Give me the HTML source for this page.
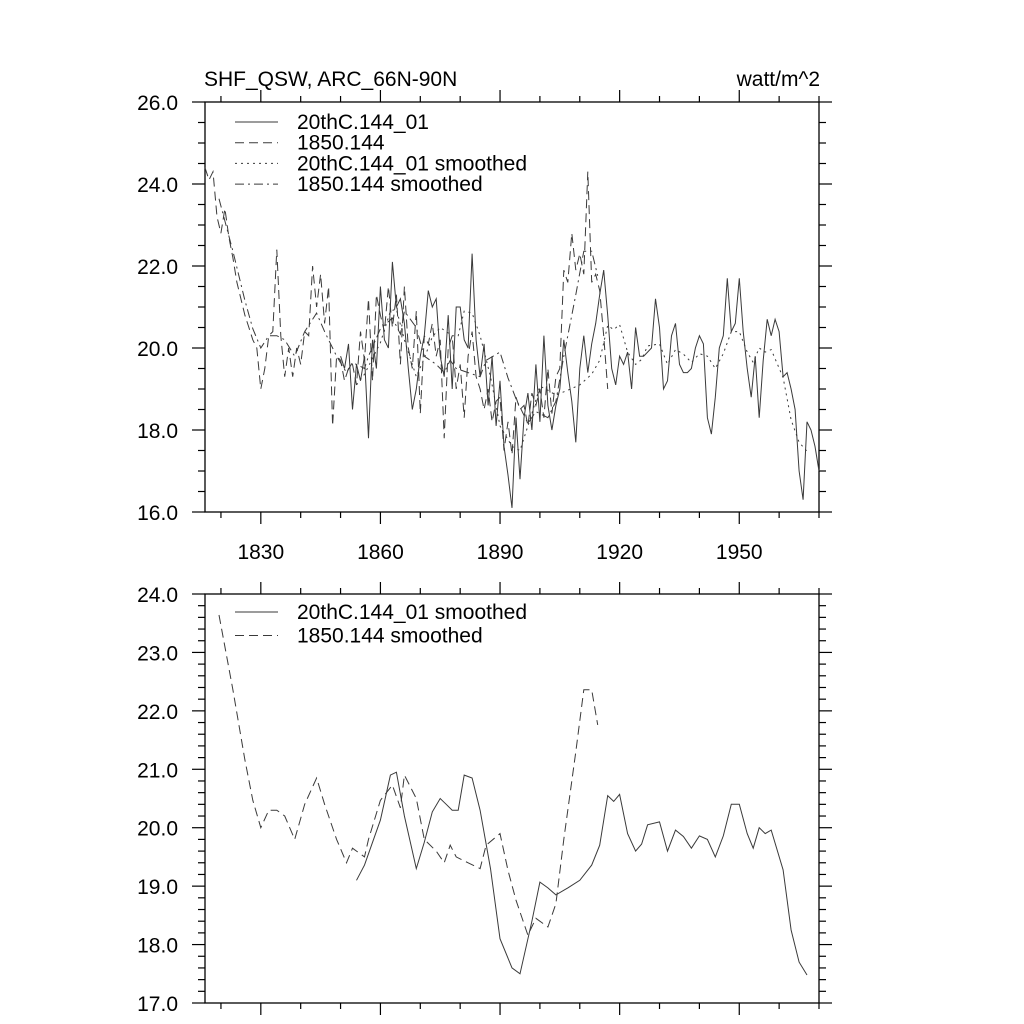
<!DOCTYPE html>
<html><head><meta charset="utf-8"><style>
body{margin:0;background:#fff}
svg{display:block;font-family:"Liberation Sans",sans-serif}
</style></head><body>
<svg id="chart" width="1024" height="1024" xmlns="http://www.w3.org/2000/svg">
<rect width="1024" height="1024" fill="#fff"/>
<g id="g"></g>
</svg>
<script>
const rawYears20Start = 1850;
const raw20 = [19.8,19.5,20.1,18.5,19.6,19.2,19.8,17.8,20.2,19.5,21.5,20.2,20.0,22.1,21.0,21.2,20.6,19.5,18.5,19.0,
19.8,20.3,21.4,21.0,21.2,19.8,19.3,20.8,19.0,21.0,21.0,20.2,20.0,22.3,20.2,19.3,20.1,18.6,19.8,18.1,
19.2,17.6,16.9,16.1,18.3,16.8,18.3,18.9,18.0,19.6,18.2,20.3,18.6,18.0,18.6,19.0,20.2,19.4,18.7,17.7,
19.5,20.3,19.4,20.1,20.6,21.3,21.9,20.8,19.5,19.1,19.8,19.6,19.9,19.0,20.5,19.8,19.8,19.9,20.0,21.2,
20.5,19.0,19.2,20.3,20.6,19.6,19.4,19.4,19.5,20.0,20.3,20.1,18.3,17.9,18.8,20.0,20.3,21.7,20.4,20.6,
21.7,20.4,19.5,18.8,19.8,18.3,19.7,20.7,20.3,20.7,20.4,19.3,19.4,19.0,18.5,17.0,16.3,18.2,18.0,17.6,17.0];
const rawYears1850Start = 1816;
const raw1850 = [24.4,24.1,24.3,23.2,22.8,23.4,22.7,22.2,21.6,21.2,20.8,20.5,20.2,20.0,19.0,19.5,20.3,20.4,22.4,20.3,
19.3,20.0,19.3,20.0,19.6,20.4,20.3,22.0,21.0,21.8,20.6,21.5,18.1,19.8,19.7,19.2,19.5,19.6,19.1,20.4,
19.7,21.2,19.2,21.3,20.8,20.4,21.5,20.5,21.3,19.6,21.5,20.0,19.5,20.9,18.4,20.3,20.1,20.6,19.8,20.2,
17.8,20.0,20.3,19.0,19.6,18.3,19.8,20.4,19.3,19.0,18.5,19.0,18.2,18.7,18.8,17.5,18.2,17.4,18.8,18.5,
18.6,18.1,18.9,18.6,19.0,18.3,19.5,18.4,19.3,19.5,21.9,21.6,22.8,21.9,22.3,21.8,24.3,21.6,21.8,21.4,20.3,19.0];
const smYears20 = [1854,1856,1860,1862.5,1864,1866,1869,1871,1873,1875,1876.5,1878,1879.5,1881,1883,1885,1887.6,1890,1893,1895,1898,1900,1902,1904,1907,1910,1913,1915,1917,1918.5,1920,1922,1924,1925.5,1927,1930,1932,1934,1936,1938,1940,1942,1944,1946,1948,1950,1952,1953.5,1955,1956.5,1958,1961,1963,1965,1967];
const sm20 = [19.1,19.36,20.13,20.9,20.95,20.2,19.3,19.75,20.27,20.5,20.4,20.3,20.3,20.9,20.85,20.3,19.3,18.1,17.6,17.5,18.4,19.07,18.97,18.85,18.97,19.1,19.36,19.7,20.55,20.45,20.57,19.9,19.6,19.72,20.05,20.1,19.6,19.96,19.85,19.65,19.86,19.8,19.5,19.86,20.4,20.4,19.9,19.65,20.0,19.9,19.96,19.28,18.25,17.7,17.48];
const smYears1850 = [1819.5,1823,1826,1828,1830,1832,1834,1836,1838.5,1841,1844,1846,1849,1851.5,1853,1856,1857,1860,1863,1865,1866,1869,1871,1874,1876,1877.5,1879,1882,1885,1886.5,1890,1892,1894,1897,1899,1902,1904,1906,1909,1911,1913,1914.5];
const sm1850 = [23.64,22.36,21.16,20.47,20.0,20.3,20.3,20.2,19.8,20.4,20.85,20.4,19.8,19.4,19.65,19.5,19.8,20.47,20.73,20.34,20.9,20.5,19.8,19.6,19.4,19.7,19.5,19.4,19.3,19.7,19.9,19.27,18.76,18.16,18.45,18.3,18.7,19.8,21.3,22.36,22.36,21.76];
const xTickLabels = [1830,1860,1890,1920,1950];
const topYTicks = ["16.0","18.0","20.0","22.0","24.0","26.0"];
const botYTicks = ["17.0","18.0","19.0","20.0","21.0","22.0","23.0","24.0"];

const NS="http://www.w3.org/2000/svg";
const G=document.getElementById('g');
function mk(tag,attrs,parent){const e=document.createElementNS(NS,tag);for(const k in attrs)e.setAttribute(k,attrs[k]);(parent||G).appendChild(e);return e;}
const X0=205,X1=819,XMIN=1816,XMAX=1970;
const xs=y=>X0+(y-XMIN)/(XMAX-XMIN)*(X1-X0);
const COL="#3a3a3a";
const FS=21;

function panel(name,top,bot,ymin,ymax,major,minor,ylabels,showX){
  const ys=v=>bot-(v-ymin)/(ymax-ymin)*(bot-top);
  const g=mk('g',{});
  
  
  const fr=mk('rect',{x:X0,y:top,width:X1-X0,height:bot-top,fill:'none',stroke:'#000','stroke-width':1.3},g);
  
  
  for(let yr=1820;yr<=XMAX;yr+=10){
    const x=xs(yr),L=(yr-1830)%30===0?12:6;
    mk('line',{x1:x,x2:x,y1:bot,y2:bot+L,stroke:'#000','stroke-width':1.2},g);
    mk('line',{x1:x,x2:x,y1:top,y2:top-L,stroke:'#000','stroke-width':1.2},g);
  }
  const n=Math.round((ymax-ymin)/minor);
  for(let i=0;i<=n;i++){
    const v=ymin+i*minor,y=ys(v);
    const isMaj=Math.abs(v/major-Math.round(v/major))<1e-6;
    const L=isMaj?13:7;
    mk('line',{x1:X0-L,x2:X0,y1:y,y2:y,stroke:'#000','stroke-width':1.2},g);
    mk('line',{x1:X1,x2:X1+L,y1:y,y2:y,stroke:'#000','stroke-width':1.2},g);
  }
  ylabels.forEach(s=>{
    const t=mk('text',{x:178,y:ys(parseFloat(s))+8,'text-anchor':'end','font-size':FS},g);
    t.textContent=s;
    
    
  });
  if(showX){xTickLabels.forEach(v=>{
    const t=mk('text',{x:xs(v),y:bot+47,'text-anchor':'middle','font-size':FS},g);
    t.textContent=v;
    
    
  });}
  return ys;
}
function series(name,years,vals,ys,dash){
  const pts=years.map((y,i)=>xs(y).toFixed(1)+','+ys(vals[i]).toFixed(1)).join(' ');
  const p=mk('polyline',{points:pts,fill:'none',stroke:COL,'stroke-width':1,'stroke-dasharray':dash||'none'});
  
  
}
function legend(items,x,y0,dy){
  items.forEach((it,i)=>{
    const y=y0+i*dy;
    const l=mk('line',{x1:x,x2:x+43,y1:y,y2:y,stroke:COL,'stroke-width':1,'stroke-dasharray':it[1]||'none'});
    
    
    const t=mk('text',{x:x+62,y:y+7,'font-size':FS});
    t.textContent=it[0];
    
    
  });
}
const yr20=raw20.map((_,i)=>rawYears20Start+i);
const yr1850=raw1850.map((_,i)=>rawYears1850Start+i);
const ysT=panel('top-panel',102,512,16,26,2,0.5,topYTicks,true);
series('raw-20thc',yr20,raw20,ysT,null);
series('raw-1850',yr1850,raw1850,ysT,'9,5');
series('smoothed-20thc-top',smYears20,sm20,ysT,'2,4');
series('smoothed-1850-top',smYears1850,sm1850,ysT,'9,4,2,4');
legend([["20thC.144_01",null],["1850.144","9,5"],["20thC.144_01 smoothed","2,4"],["1850.144 smoothed","9,4,2,4"]],235,122,20.7);
let t=mk('text',{x:204,y:86,'font-size':FS});t.textContent='SHF_QSW, ARC_66N-90N';


t=mk('text',{x:820,y:86,'font-size':FS,'text-anchor':'end'});t.textContent='watt/m^2';


const ysB=panel('bottom-panel',594,1003,17,24,1,0.2,botYTicks,false);
series('smoothed-20thc-bottom',smYears20,sm20,ysB,null);
series('smoothed-1850-bottom',smYears1850,sm1850,ysB,'9,5');
legend([["20thC.144_01 smoothed",null],["1850.144 smoothed","9,5"]],235,612,23.5);
</script>
</body></html>
